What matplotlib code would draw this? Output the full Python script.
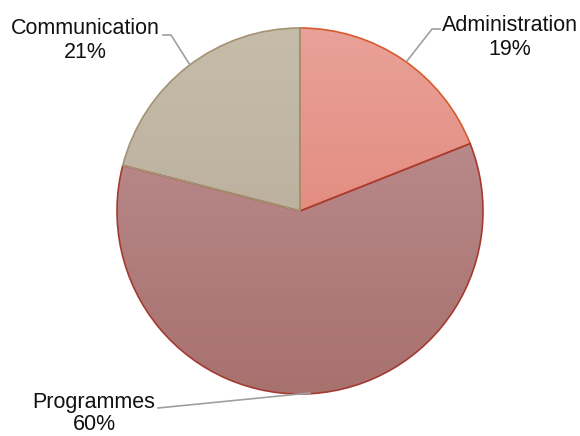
import matplotlib
matplotlib.use("Agg")
import matplotlib.pyplot as plt
import numpy as np
from matplotlib.colors import LinearSegmentedColormap

categories = ["Administration", "Programmes", "Communication"]
values = [19, 60, 21]
top_colors = ["#E9A198", "#C19397", "#C5BCAA"]
bottom_colors = ["#DF7A6B", "#A7716E", "#B3A893"]
edge_colors = ["#D95A30", "#A53A30", "#A39374"]

W, H = 580, 436
fig = plt.figure(figsize=(W / 100, H / 100), dpi=100)
ax = fig.add_axes([0, 0, 1, 1])

cx, cy, r = 300, H - 211, 183
wedges, _ = ax.pie(values, startangle=90, counterclock=False, center=(cx, cy),
                   radius=r, frame=True,
                   wedgeprops=dict(linewidth=1.2))
ax.set_xlim(0, W)
ax.set_ylim(0, H)
ax.set_aspect("equal")
ax.axis("off")

for w, tc, bc, ec in zip(wedges, top_colors, bottom_colors, edge_colors):
    w.set_facecolor("none")
    w.set_edgecolor(ec)
    w.set_zorder(3)
    cmap = LinearSegmentedColormap.from_list("g", [bc, tc])
    grad = np.linspace(0, 1, 256).reshape(-1, 1)
    im = ax.imshow(grad, cmap=cmap, origin="lower", aspect="auto",
                   extent=(cx - r, cx + r, cy - r, cy + r), zorder=2)
    im.set_clip_path(w)

total = sum(values)
pcts = [f"{round(v * 100 / total)}%" for v in values]

font = dict(family=["Liberation Sans", "DejaVu Sans"], fontsize=15.5, color="#111111")
line_kw = dict(color="#A0A0A0", lw=1.2, zorder=4)

def yy(p):
    return H - p

def label(x, y1, y2, name, pct):
    ax.text(x, yy(y1), name, ha="center", va="baseline", **font)
    ax.text(x, yy(y2), pct, ha="center", va="baseline", **font)

# Administration
ax.plot([407, 432, 440], [yy(61), yy(29), yy(29)], **line_kw)
label(510, 31, 55, categories[0], pcts[0])
# Communication
ax.plot([163, 171, 190], [yy(35), yy(35), yy(65)], **line_kw)
label(85, 34, 58, categories[2], pcts[2])
# Programmes
ax.plot([158, 310], [yy(408), yy(393)], **line_kw)
label(94, 408, 430, categories[1], pcts[1])

fig.savefig("out.png", dpi=100)
